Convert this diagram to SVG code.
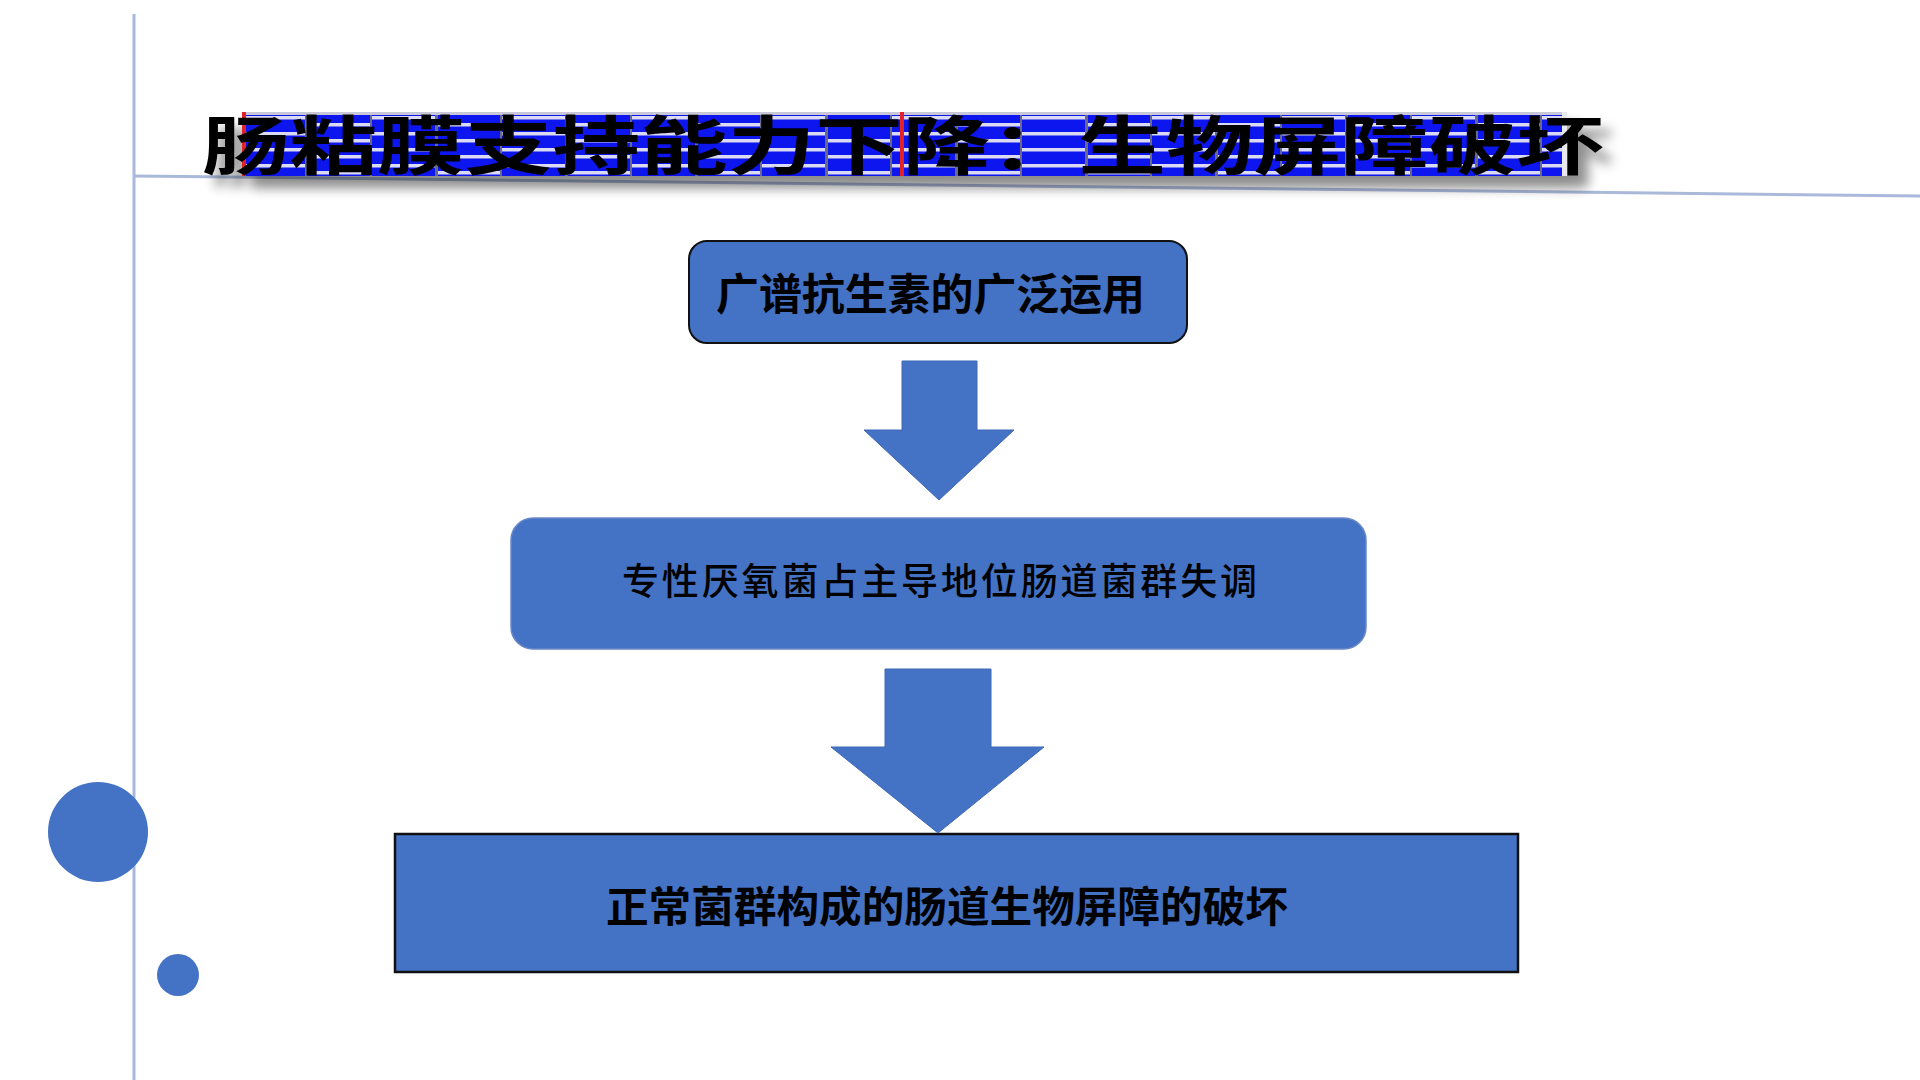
<svg xmlns="http://www.w3.org/2000/svg" width="1920" height="1080" viewBox="0 0 1920 1080">
<defs>
<style>
.guide{stroke:#AAB8DA;stroke-width:3;fill:none}
.dot{fill:#4472C4}
.box{fill:#4472C4}
.arrow{fill:#4472C4;stroke:#3F68B5;stroke-width:1}
.cjk{font-family:"Noto Sans CJK SC","Noto Sans CJK TC",sans-serif;fill:#000}
</style>
<pattern id="stripes" x="242" y="112" width="130" height="16" patternUnits="userSpaceOnUse">
<rect width="130" height="16" fill="#0A14EE"/>
<rect x="0" y="4" width="65" height="3.5" fill="#DADAF2"/>
<rect x="65" y="11" width="65" height="3.5" fill="#DADAF2"/>
<rect x="63" y="0" width="3" height="16" fill="#6A6A88"/>
<rect x="128" y="0" width="2" height="16" fill="#6A6A88"/>
</pattern>
<filter id="shadow" x="-5%" y="-40%" width="115%" height="200%">
<feDropShadow dx="10" dy="12" stdDeviation="6" flood-color="#000" flood-opacity="0.45"/>
</filter>
</defs>

<g id="decor">
<line class="guide" x1="134" y1="14" x2="134" y2="1080"/>
<line class="guide" x1="134" y1="176" x2="1920" y2="196"/>
<circle class="dot" cx="98" cy="832" r="50"/>
<circle class="dot" cx="178" cy="975" r="21"/>
</g>

<g id="title" filter="url(#shadow)">
<rect x="242" y="112" width="1325" height="64" fill="url(#stripes)"/>
<rect x="242" y="112" width="1325" height="3" fill="#C8C8D8"/>
<rect x="242" y="112" width="4" height="64" fill="#E0202A"/>
<rect x="900" y="112" width="4" height="64" fill="#E0202A"/>
<rect x="1562" y="112" width="5" height="64" fill="#E8E8EE"/>
<text class="cjk" x="202" y="141" dominant-baseline="central" font-size="64" font-weight="700" textLength="1402" lengthAdjust="spacingAndGlyphs">肠粘膜支持能力下降：生物屏障破坏</text>
</g>

<g id="node1">
<rect class="box" x="689" y="241" width="498" height="102" rx="18" ry="18" stroke="#111" stroke-width="2"/>
<text class="cjk" x="716" y="291" dominant-baseline="central" font-size="43" font-weight="700" textLength="429" lengthAdjust="spacingAndGlyphs">广谱抗生素的广泛运用</text>
</g>

<g id="node2">
<rect class="box" x="511" y="518" width="855" height="131" rx="22" ry="22" stroke="#6A88C8" stroke-width="1.5"/>
<text class="cjk" x="622" y="579" dominant-baseline="central" font-size="37" font-weight="500" textLength="635" lengthAdjust="spacing">专性厌氧菌占主导地位肠道菌群失调</text>
</g>

<g id="node3">
<rect class="box" x="395" y="834" width="1123" height="138" stroke="#111" stroke-width="2.5"/>
<text class="cjk" x="606" y="903" dominant-baseline="central" font-size="42" font-weight="700" textLength="682" lengthAdjust="spacingAndGlyphs">正常菌群构成的肠道生物屏障的破坏</text>
</g>

<g id="connectors">
<polygon class="arrow" points="902,361 977,361 977,430 1014,430 939,500 864,430 902,430"/>
<polygon class="arrow" points="885,669 991,669 991,747 1044,747 938,833 831,747 885,747"/>
</g>
</svg>
